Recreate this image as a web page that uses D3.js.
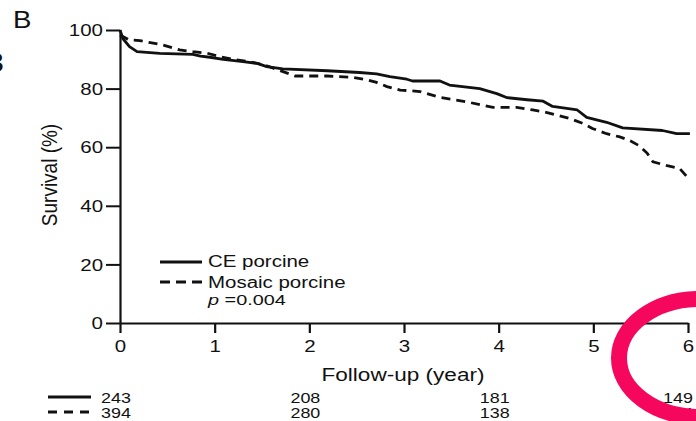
<!DOCTYPE html>
<html>
<head>
<meta charset="utf-8">
<script src="https://cdn.jsdelivr.net/npm/d3@7"></script>
<style>
  html, body { margin: 0; padding: 0; background: #fff; }
  svg { display: block; }
  text { font-family: "Liberation Sans", Arial, Helvetica, sans-serif; fill: #111; }
</style>
</head>
<body>
<svg id="chart" width="696" height="421"></svg>
<script>
// ---- data ----
const ceYears    = [0, 0.03, 0.10, 0.18, 0.42, 0.77, 0.85, 0.95, 1.09, 1.30, 1.45, 1.55, 1.72, 2.19, 2.53, 2.71, 2.85, 3.03, 3.09, 3.38, 3.48, 3.80, 3.98, 4.09, 4.30, 4.47, 4.57, 4.83, 4.93, 5.14, 5.31, 5.73, 5.88, 6.02];
const ceSurvival = [100, 97.1, 94.3, 92.6, 92.0, 91.7, 91.1, 90.7, 90.0, 89.2, 88.6, 87.5, 86.7, 86.1, 85.5, 85.0, 84.1, 83.2, 82.6, 82.6, 81.2, 80.0, 78.3, 76.9, 76.2, 75.7, 73.9, 72.7, 70.2, 68.5, 66.6, 65.7, 64.6, 64.6];

const mosaicYears    = [0, 0.10, 0.21, 0.32, 0.45, 0.63, 0.77, 0.92, 1.06, 1.19, 1.37, 1.55, 1.85, 2.19, 2.46, 2.61, 2.71, 2.82, 2.96, 3.17, 3.38, 3.66, 3.94, 4.19, 4.36, 4.47, 4.61, 4.75, 4.89, 4.99, 5.14, 5.28, 5.39, 5.49, 5.57, 5.63, 5.78, 5.91, 5.99];
const mosaicSurvival = [98.3, 96.6, 96.4, 95.7, 94.9, 93.2, 92.6, 92.1, 90.9, 90.0, 89.2, 87.8, 84.3, 84.3, 83.8, 83.0, 82.1, 80.7, 79.5, 79.0, 77.0, 75.5, 73.6, 73.6, 72.7, 72.1, 71.0, 69.8, 68.1, 66.4, 64.6, 63.5, 62.2, 60.4, 57.9, 55.0, 53.7, 52.8, 49.9];

const xTicks = [0, 1, 2, 3, 4, 5, 6];
const yTicks = [0, 20, 40, 60, 80, 100];

const seriesNames = ["CE porcine", "Mosaic porcine"];
const riskYears  = [0, 2, 4, 6];
const riskCE     = ["243", "208", "181", "149"];
const riskMosaic = ["394", "280", "138", "34"];
const pValueText = "=0.004";

// ---- layout ----
const SX = 1.28; // horizontal stretch of the reference text
const svg = d3.select("#chart");
const x = d3.scaleLinear().domain([0, 6]).range([120, 688]);
const y = d3.scaleLinear().domain([0, 100]).range([323, 30]);

function sText(px, py, str, opts = {}) {
  const sx = opts.sx || SX;
  const t = svg.append("text")
    .attr("transform", `translate(${px},${py}) scale(${sx},1)` + (opts.rot ? ` rotate(${opts.rot})` : ""))
    .attr("text-anchor", opts.anchor || "start")
    .style("font-size", (opts.size || 16) + "px")
    .text(str);
  if (opts.italic) t.style("font-style", "italic");
  return t;
}

// panel letter and clipped neighbour fragment
sText(13, 28, "B", { size: 24, sx: 1.15 });
sText(4, 72, "3", { size: 28, anchor: "end", sx: 1.1 });

// ---- axes ----
const yAxis = d3.axisLeft(y).tickValues(yTicks).tickFormat(d3.format("d"))
  .tickSize(14).tickPadding(0).tickSizeOuter(0);
const gy = svg.append("g").attr("transform", `translate(${x(0)},0)`).call(yAxis);
gy.select(".domain").attr("stroke", "#111").attr("stroke-width", 2.2);
gy.selectAll(".tick line").attr("stroke", "#111").attr("stroke-width", 2);
gy.selectAll(".tick text")
  .attr("x", -17 / SX).attr("dy", "0.35em")
  .attr("transform", `scale(${SX},1)`)
  .style("font-size", "16px").style("font-family", "Liberation Sans, Arial, sans-serif").attr("fill", "#111");

const xAxis = d3.axisBottom(x).tickValues(xTicks).tickFormat(d3.format("d"))
  .tickSize(10).tickPadding(8).tickSizeOuter(0);
const gx = svg.append("g").attr("transform", `translate(0,${y(0)})`).call(xAxis);
gx.select(".domain").attr("stroke", "#111").attr("stroke-width", 2);
gx.selectAll(".tick line").attr("stroke", "#111").attr("stroke-width", 2.2);
gx.selectAll(".tick text")
  .attr("transform", `scale(${SX},1)`)
  .style("font-size", "16px").style("font-family", "Liberation Sans, Arial, sans-serif").attr("fill", "#111");

// axis titles
sText(403, 381, "Follow-up (year)", { size: 18.5, anchor: "middle", sx: 1.22 });
sText(57, 175, "Survival (%)", { size: 19, anchor: "middle", sx: 1.2, rot: -90 });

// ---- survival curves ----
const line = d3.line().x(d => x(d[0])).y(d => y(d[1])).curve(d3.curveLinear);
const ceData = ceYears.map((t, i) => [t, ceSurvival[i]]);
const moData = mosaicYears.map((t, i) => [t, mosaicSurvival[i]]);

svg.append("path").datum(moData).attr("d", line)
  .attr("fill", "none").attr("stroke", "#111").attr("stroke-width", 2.8)
  .attr("stroke-dasharray", "9,6");
svg.append("path").datum(ceData).attr("d", line)
  .attr("fill", "none").attr("stroke", "#111").attr("stroke-width", 2.8)
  .attr("stroke-linejoin", "round");

// ---- legend ----
svg.append("line").attr("x1", 160).attr("x2", 202).attr("y1", 262).attr("y2", 262)
  .attr("stroke", "#111").attr("stroke-width", 2.8);
svg.append("line").attr("x1", 160).attr("x2", 202).attr("y1", 282).attr("y2", 282)
  .attr("stroke", "#111").attr("stroke-width", 2.8).attr("stroke-dasharray", "10,6");
sText(208, 267, seriesNames[0], { size: 16 });
sText(208, 288, seriesNames[1], { size: 16 });
const pt = svg.append("text")
  .attr("transform", `translate(208,305) scale(${SX},1)`)
  .style("font-size", "15.5px");
pt.append("tspan").style("font-style", "italic").text("p");
pt.append("tspan").text(" " + pValueText);

// ---- numbers at risk ----
svg.append("line").attr("x1", 48).attr("x2", 91).attr("y1", 397).attr("y2", 397)
  .attr("stroke", "#111").attr("stroke-width", 2.8);
svg.append("line").attr("x1", 48).attr("x2", 91).attr("y1", 412).attr("y2", 412)
  .attr("stroke", "#111").attr("stroke-width", 2.8).attr("stroke-dasharray", "9,7");
riskYears.forEach((yr, i) => {
  const ex = Math.min(x(yr) + 11, 693);
  sText(ex, 403, riskCE[i], { size: 14, anchor: "end" });
  sText(ex, 418, riskMosaic[i], { size: 14, anchor: "end" });
});

// ---- pink annotation ring ----
svg.append("ellipse").attr("cx", 700).attr("cy", 358).attr("rx", 81).attr("ry", 59)
  .attr("fill", "none").attr("stroke", "#f5075e").attr("stroke-width", 16);
</script>
</body>
</html>
